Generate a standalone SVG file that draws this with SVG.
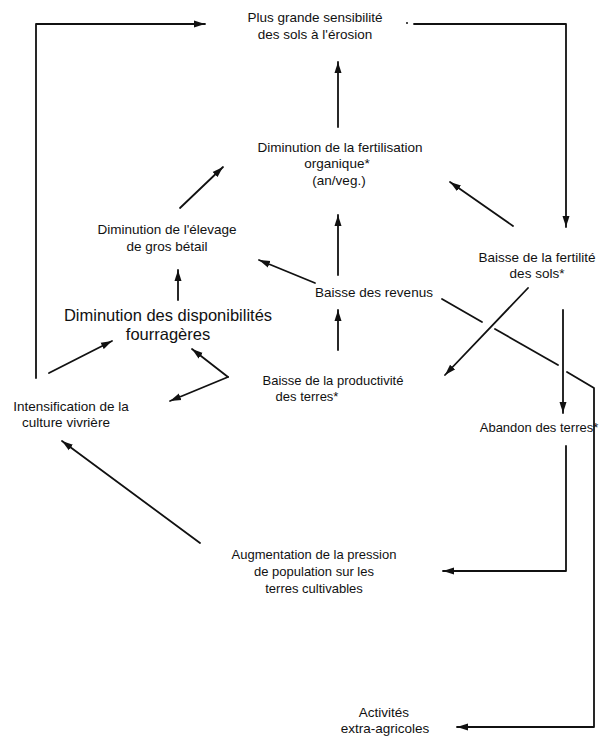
<svg xmlns="http://www.w3.org/2000/svg" width="606" height="736" viewBox="0 0 606 736">
<defs>
<style>
.t{font-family:"Liberation Sans",Arial,Helvetica,sans-serif;font-size:13.5px;text-anchor:middle;fill:#111}
.big{font-size:16.5px}
.sm{font-size:13px}
.c{fill:none;stroke:#111;stroke-width:1.8;stroke-linecap:round;stroke-linejoin:round}
.a{marker-end:url(#ah)}
</style>
<marker id="ah" markerUnits="userSpaceOnUse" markerWidth="12" markerHeight="8" refX="11" refY="4" orient="auto">
<path d="M0,0.5 L11,4 L0,7.5 Z" fill="#111"/>
</marker>
</defs>
<rect width="606" height="736" fill="#fff"/>
<g id="connectors">
<polyline class="c a" points="36,378 36,24 205,24"/>
<circle cx="407" cy="23" r="1" fill="#111"/>
<polyline class="c a" points="414,24 566,24 566,227"/>
<line class="c a" x1="338" y1="127" x2="338" y2="62"/>
<line class="c a" x1="180" y1="208" x2="223" y2="167"/>
<line class="c a" x1="315" y1="283" x2="259" y2="260"/>
<line class="c a" x1="178" y1="300" x2="178" y2="270"/>
<line class="c a" x1="338" y1="275" x2="338" y2="215"/>
<line class="c a" x1="513" y1="226" x2="450" y2="182"/>
<line class="c a" x1="528" y1="288" x2="445" y2="375"/>
<line class="c" x1="442" y1="299" x2="482" y2="322"/>
<line class="c" x1="495" y1="329" x2="558" y2="365"/>
<polyline class="c a" points="567,372 594,388 594,727 457,727"/>
<line class="c a" x1="563" y1="310" x2="563" y2="413"/>
<polyline class="c a" points="566,446 566,571 443,571"/>
<line class="c a" x1="200" y1="543" x2="62" y2="441"/>
<line class="c a" x1="49" y1="373" x2="112" y2="341"/>
<line class="c a" x1="228" y1="377" x2="192" y2="349"/>
<line class="c a" x1="228" y1="377" x2="170" y2="401"/>
<line class="c a" x1="338" y1="350" x2="338" y2="310"/>
</g>
<g id="erosion"><text class="t" x="315" y="22">Plus grande sensibilité</text><text class="t" x="315" y="39">des sols à l'érosion</text></g>
<g id="fertilisation"><text class="t" x="340" y="152">Diminution de la fertilisation</text><text class="t" x="337" y="168">organique*</text><text class="t" x="339" y="185">(an/veg.)</text></g>
<g id="elevage"><text class="t" x="167" y="234">Diminution de l'élevage</text><text class="t" x="167" y="251">de gros bétail</text></g>
<g id="disponibilites"><text class="t big" x="168" y="321">Diminution des disponibilités</text><text class="t big" x="168" y="340">fourragères</text></g>
<g id="revenus"><text class="t" x="374" y="297">Baisse des revenus</text></g>
<g id="fertilite"><text class="t" x="537" y="262">Baisse de la fertilité</text><text class="t" x="537" y="278">des sols*</text></g>
<g id="productivite"><text class="t sm" x="333" y="385">Baisse de la productivité</text><text class="t sm" x="307" y="401">des terres*</text></g>
<g id="intensification"><text class="t" x="71" y="411">Intensification de la</text><text class="t" x="66" y="427">culture vivrière</text></g>
<g id="abandon"><text class="t sm" x="539" y="432">Abandon des terres*</text></g>
<g id="pression"><text class="t sm" x="314" y="559">Augmentation de la pression</text><text class="t sm" x="314" y="576">de population sur les</text><text class="t sm" x="314" y="593">terres cultivables</text></g>
<g id="activites"><text class="t" x="384" y="717">Activités</text><text class="t" x="385" y="733">extra-agricoles</text></g>
</svg>
